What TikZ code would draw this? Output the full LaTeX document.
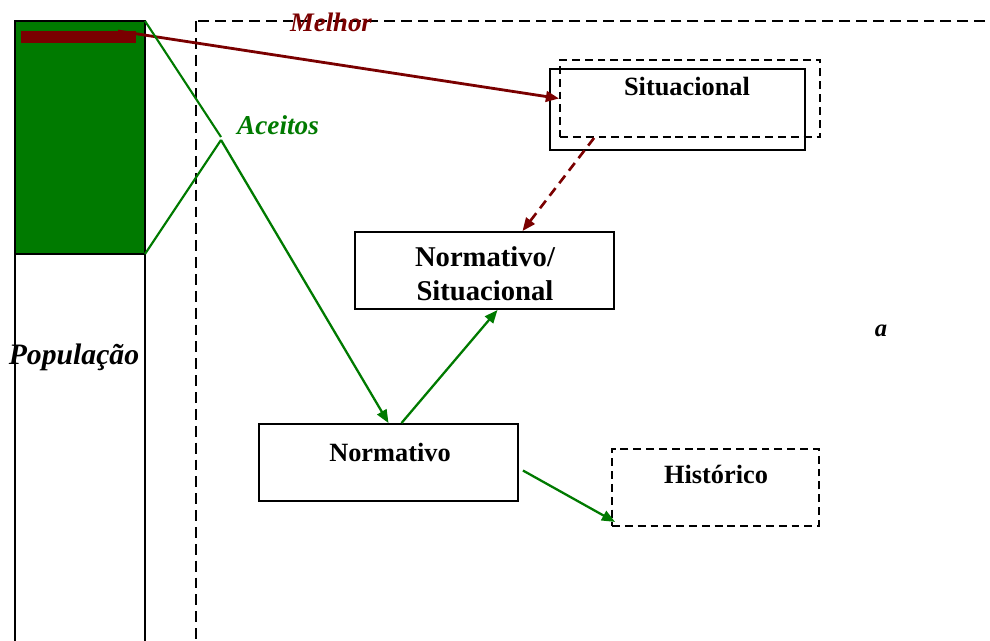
\documentclass[tikz,border=0pt]{standalone}
\usepackage{fontspec}
\setmainfont{Liberation Serif}
\usetikzlibrary{calc,positioning,arrows.meta}
\definecolor{verde}{RGB}{0,122,0}
\definecolor{vinho}{RGB}{122,0,0}

\begin{document}
\begin{tikzpicture}[x=0.02cm,y=-0.02cm,
		>={Triangle[length=7.5pt,width=6pt]},
		caixa/.style={draw,line width=1.1pt,minimum width=5.18cm,minimum height=1.54cm,inner sep=0pt},
		tracejada/.style={caixa,dash pattern=on 4.5pt off 2.8pt},
		rotulo/.style={font=\bfseries\fontsize{15}{18}\selectfont,inner sep=0pt},
		grifo/.style={font=\bfseries\itshape\fontsize{15.5}{18}\selectfont,inner sep=0pt}]
		\useasboundingbox (0,0) rectangle (990,641);
		\clip (0,0) rectangle (990,641);
		% populacao
		\fill[verde] (15,21) rectangle (145,254);
		\draw[line width=1.1pt] (15,21) rectangle (145,254) (15,254) rectangle (145,700);
		\fill[vinho] (21,31) rectangle (136,43);
		\draw[line width=1.1pt,dash pattern=on 6.2pt off 3.4pt] (196,21) rectangle (1050,700);
		\coordinate (a) at (145,21);
		\coordinate (b) at (145,254);
		\coordinate (c) at (221,137);
		\coordinate (d) at (221,140);
		\coordinate (e) at (118,31);
		% caixas
		\node[caixa,minimum width=5.1cm,minimum height=1.62cm] (1) at (677.5,109.5) {};
		\node[tracejada,minimum width=5.2cm] (2) at (690,98.5) {};
		\node[caixa] (3) at (484.5,270.5) {};
		\node[caixa] (4) at (388.5,462.5) {};
		\node[tracejada,minimum width=4.14cm] (5) at (715.5,487.5) {};
		\node[rotulo] (t1) at (687,87) {Situacional};
		\node[rotulo,font=\bfseries\fontsize{16.3}{19.5}\selectfont,align=center] (t3) at (485,274) {Normativo/\\Situacional};
		\node[rotulo] (t4) at (390,452) {Normativo};
		\node[rotulo] (t5) at (716,474) {Histórico};
		\node[grifo,text=vinho,font=\bfseries\itshape\fontsize{15.2}{18}\selectfont] (melhor) at (331,22) {Melhor};
		\node[grifo,text=verde] (aceitos) at (278,125) {Aceitos};
		\node[grifo,font=\bfseries\itshape\fontsize{16.9}{20}\selectfont] (pop) at (74,357) {População};
		\node[grifo,font=\bfseries\itshape\fontsize{14}{17}\selectfont] (x) at (881,331) {a};
		% ligacoes
		\draw[vinho,line width=1.6pt,->] (e) -- (2.west);
		\draw[vinho,line width=1.5pt,dash pattern=on 5.5pt off 3.5pt,->] ($(2.south west)+(35,0)$) -- ($(3.north)+(38,0)$);
		\draw[verde,line width=1.2pt] (a) -- (c) (b) -- (d);
		\draw[verde,line width=1.3pt,->] (d) -- (4.north);
		\draw[verde,line width=1.3pt,->] ($(4.north)+(13,0)$) -- ($(3.south)+(13,0)$);
		\draw[verde,line width=1.3pt,->] ($(4.east)+(4,8)$) -- ($(5.south west)+(4,-5)$);
		\end{tikzpicture}
\end{document}
